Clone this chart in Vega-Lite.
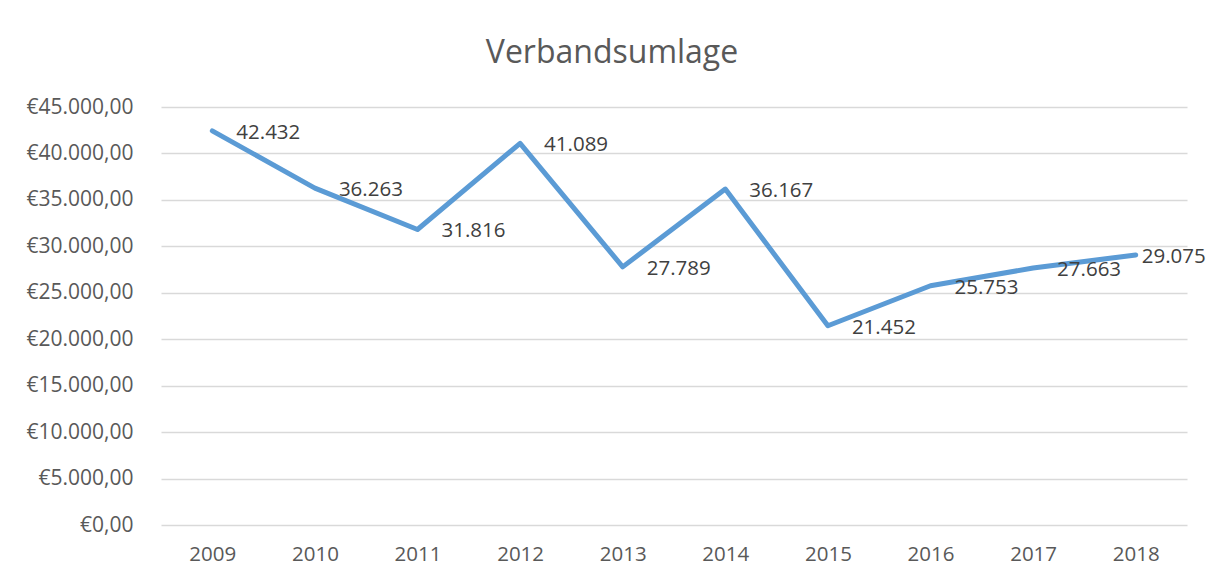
{
  "$schema": "https://vega.github.io/schema/vega-lite/v6.json",
  "width": 1026,
  "height": 418,
  "autosize": {"type": "none"},
  "padding": {"left": 161, "top": 107, "right": 26, "bottom": 58},
  "background": "white",
  "title": {
    "text": "Verbandsumlage",
    "anchor": "middle",
    "frame": "group",
    "dx": -62,
    "offset": 26,
    "fontSize": 32,
    "font": "Open Sans",
    "fontWeight": "normal",
    "color": "#595959"
  },
  "data": {
    "values": [
      {"Jahr": "2009", "Umlage": 42432},
      {"Jahr": "2010", "Umlage": 36263},
      {"Jahr": "2011", "Umlage": 31816},
      {"Jahr": "2012", "Umlage": 41089},
      {"Jahr": "2013", "Umlage": 27789},
      {"Jahr": "2014", "Umlage": 36167},
      {"Jahr": "2015", "Umlage": 21452},
      {"Jahr": "2016", "Umlage": 25753},
      {"Jahr": "2017", "Umlage": 27663},
      {"Jahr": "2018", "Umlage": 29075}
    ]
  },
  "encoding": {
    "x": {
      "field": "Jahr",
      "type": "ordinal",
      "scale": {"paddingInner": 0, "paddingOuter": 0},
      "axis": {
        "title": null,
        "labelAngle": 0,
        "ticks": false,
        "domain": false,
        "grid": false,
        "labelPadding": 19,
        "labelFontSize": 20.5,
        "labelFont": "Open Sans",
        "labelColor": "#595959"
      }
    },
    "y": {
      "field": "Umlage",
      "type": "quantitative",
      "scale": {"domain": [0, 45000], "nice": false},
      "axis": {
        "title": null,
        "values": [0, 5000, 10000, 15000, 20000, 25000, 30000, 35000, 40000, 45000],
        "format": "$,.2f",
        "ticks": false,
        "domain": false,
        "grid": true,
        "gridColor": "#d9d9d9",
        "gridWidth": 1.3,
        "labelPadding": 28,
        "labelFontSize": 21,
        "labelFont": "Open Sans",
        "labelColor": "#595959"
      }
    }
  },
  "layer": [
    {
      "mark": {"type": "line", "color": "#5B9BD5", "strokeWidth": 5, "strokeCap": "round", "strokeJoin": "round"}
    },
    {
      "transform": [{"filter": "datum.Jahr != '2018'"}],
      "mark": {"type": "text", "align": "left", "baseline": "middle", "dx": 24, "dy": 2, "fontSize": 20.5, "font": "Open Sans", "color": "#404040"},
      "encoding": {"text": {"field": "Umlage", "type": "quantitative", "format": ",.0f"}}
    },
    {
      "transform": [{"filter": "datum.Jahr == '2018'"}],
      "mark": {"type": "text", "align": "left", "baseline": "middle", "dx": 6, "dy": 2, "fontSize": 20.5, "font": "Open Sans", "color": "#404040"},
      "encoding": {"text": {"field": "Umlage", "type": "quantitative", "format": ",.0f"}}
    }
  ],
  "config": {
    "view": {"stroke": null},
    "locale": {
      "number": {"decimal": ",", "thousands": ".", "grouping": [3], "currency": ["€", ""]}
    }
  }
}
